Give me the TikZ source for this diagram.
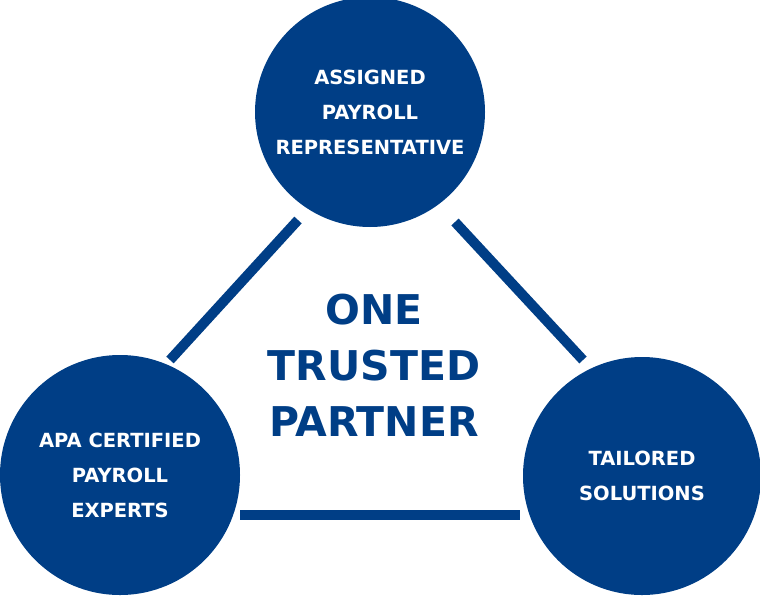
\documentclass[tikz,border=0pt]{standalone}
\usepackage{fontspec}
\setmainfont{DejaVu Sans}
\definecolor{trustblue}{HTML}{003E86}
\tikzset{
  circ/.style={circle, fill=trustblue, text=white, font=\bfseries\fontsize{19.5}{35}\selectfont, align=center, inner sep=0pt},
  link/.style={draw=trustblue, line width=10pt}
}
\begin{document}
\begin{tikzpicture}[x=1pt, y=-1pt]
  \useasboundingbox (0,0) rectangle (760,595);
  \node[circ, minimum size=230pt] (rep) at (370,112) {ASSIGNED\\PAYROLL\\REPRESENTATIVE};
  \node[circ, minimum size=240pt] (apa) at (120,475) {APA CERTIFIED\\PAYROLL\\EXPERTS};
  \node[circ, minimum size=238pt] (tai) at (642,476) {TAILORED\\SOLUTIONS};
  \node[text=trustblue, font=\bfseries\fontsize{41}{56}\selectfont, align=center] (one) at (374,365) {ONE\\TRUSTED\\PARTNER};
  % connectors
  \coordinate (a1) at (170,360); \coordinate (a2) at (298,220);
  \coordinate (b1) at (455,222); \coordinate (b2) at (583,360);
  \coordinate (c1) at (240,515); \coordinate (c2) at (520,515);
  \draw[link] (a1) -- (a2);
  \draw[link] (b1) -- (b2);
  \draw[link] (c1) -- (c2);
\end{tikzpicture}
\end{document}
